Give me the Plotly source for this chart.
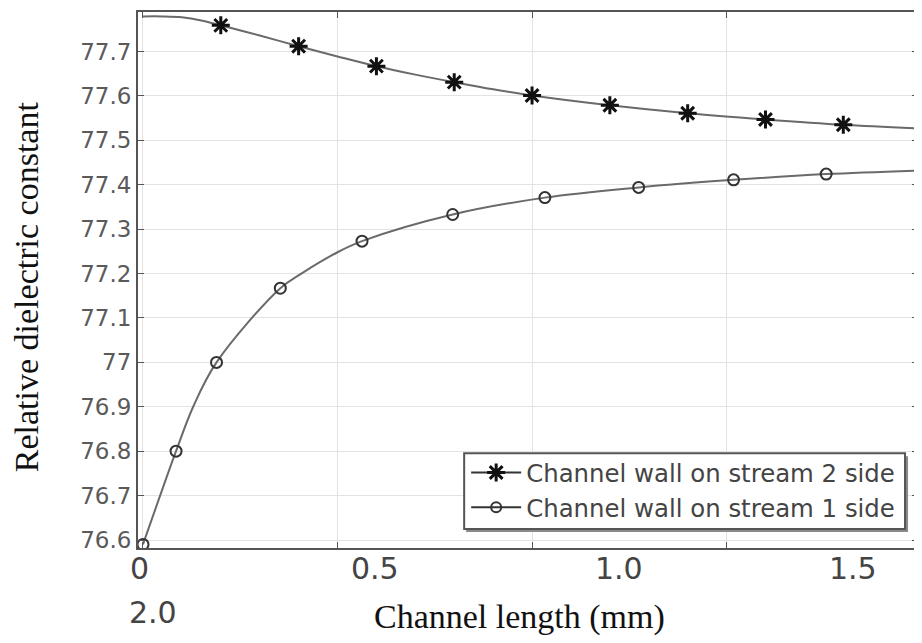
import plotly.graph_objects as go

# ---------------- data ----------------
# Channel wall on stream 2 side (stars)
s2_line_x = [0, 0.05, 0.1, 0.15, 0.2, 0.3, 0.4, 0.5, 0.6, 0.7, 0.8, 0.9, 1.0, 1.2, 1.4, 1.6, 1.8, 1.99]
s2_line_y = [77.779, 77.779, 77.777, 77.770, 77.759, 77.736, 77.712, 77.689, 77.667, 77.648,
             77.631, 77.615, 77.601, 77.579, 77.561, 77.547, 77.535, 77.527]
s2_mark_x = [0.2, 0.4, 0.6, 0.8, 1.0, 1.2, 1.4, 1.6, 1.8]
s2_mark_y = [77.759, 77.712, 77.667, 77.631, 77.601, 77.579, 77.561, 77.547, 77.535]

# Channel wall on stream 1 side (circles)
s1_line_x = [0, 0.044, 0.085, 0.129, 0.189, 0.353, 0.407, 0.5, 0.563, 0.796, 1.033, 1.274, 1.518, 1.756, 1.99]
s1_line_y = [76.59, 76.70, 76.80, 76.90, 77.00, 77.167, 77.20, 77.248, 77.273, 77.333,
             77.371, 77.394, 77.411, 77.424, 77.432]
s1_mark_x = [0, 0.085, 0.189, 0.353, 0.563, 0.796, 1.033, 1.274, 1.518, 1.756]
s1_mark_y = [76.59, 76.80, 77.00, 77.167, 77.273, 77.333, 77.371, 77.394, 77.411, 77.424]

series_names = ["Channel wall on stream 2 side", "Channel wall on stream 1 side"]

y_tick_vals = [76.6, 76.7, 76.8, 76.9, 77.0, 77.1, 77.2, 77.3, 77.4, 77.5, 77.6, 77.7]
y_tick_text = ["76.6", "76.7", "76.8", "76.9", "77", "77.1", "77.2", "77.3", "77.4", "77.5", "77.6", "77.7"]
x_grid_vals = [0, 0.5, 1.0, 1.5]
# x tick labels as they appear (wrapped text line in the source figure)
x_label_text = ["0", "0.5", "1.0", "1.5", "2.0"]
x_label_pos = [-0.008, 0.597, 1.223, 1.826, 0.026]
x_label_row = [-0.039, -0.039, -0.039, -0.039, -0.121]

x_title = "Channel length (mm)"
y_title = "Relative dielectric constant"

LINE = "#6a6a6a"
STAR = dict(symbol="asterisk-open", size=15, color="#111", line=dict(color="#111", width=3))
CIRC = dict(symbol="circle-open", size=11, color="#333", line=dict(color="#333", width=2))

fig = go.Figure()

fig.add_trace(go.Scatter(x=s2_line_x, y=s2_line_y, mode="lines", line=dict(color=LINE, width=2, shape="spline"),
                         showlegend=False, hoverinfo="skip"))
fig.add_trace(go.Scatter(x=s2_mark_x, y=s2_mark_y, mode="markers", marker=STAR, showlegend=False))
fig.add_trace(go.Scatter(x=s1_line_x, y=s1_line_y, mode="lines", line=dict(color=LINE, width=2, shape="spline"),
                         showlegend=False, hoverinfo="skip"))
fig.add_trace(go.Scatter(x=s1_mark_x, y=s1_mark_y, mode="markers", marker=CIRC, showlegend=False))

# legend entries
fig.add_trace(go.Scatter(x=[None], y=[None], mode="lines+markers", name=series_names[0],
                         line=dict(color="#333", width=2), marker=STAR))
fig.add_trace(go.Scatter(x=[None], y=[None], mode="lines+markers", name=series_names[1],
                         line=dict(color="#333", width=2), marker=dict(CIRC, size=10)))

annotations = []
for t, xp, yp in zip(x_label_text, x_label_pos, x_label_row):
    annotations.append(dict(x=xp, y=yp, xref="x", yref="paper", text=t, showarrow=False,
                            xanchor="center", yanchor="middle",
                            font=dict(family="DejaVu Sans", size=30, color="#444")))
annotations.append(dict(x=0.4885, y=-0.128, xref="paper", yref="paper", text=x_title, showarrow=False,
                        xanchor="center", yanchor="middle",
                        font=dict(family="Liberation Serif", size=34, color="#111")))
annotations.append(dict(x=-0.1426, y=0.488, xref="paper", yref="paper", text=y_title, showarrow=False,
                        textangle=-90, xanchor="center", yanchor="middle",
                        font=dict(family="Liberation Serif", size=34, color="#111")))

# legend frame with a soft shadow on its bottom/right edge
W, H = 782.0, 537.0
shapes = [
    dict(type="rect", xref="paper", yref="paper",
         x0=(467 - 138) / W, x1=(910 - 138) / W, y0=(548 - 532) / H, y1=(548 - 456) / H,
         fillcolor="#8a8a8a", line=dict(width=0), layer="above"),
    dict(type="rect", xref="paper", yref="paper",
         x0=(465 - 138) / W, x1=(907 - 138) / W, y0=(548 - 529) / H, y1=(548 - 453) / H,
         fillcolor="white", line=dict(color="#555", width=2), layer="above"),
]

fig.update_layout(
    width=914, height=635,
    margin=dict(l=130, r=2, t=3, b=95),
    paper_bgcolor="white", plot_bgcolor="white",
    showlegend=True,
    legend=dict(x=(467 - 138) / W, y=(548 - 450) / H, xanchor="left", yanchor="top",
                bgcolor="rgba(0,0,0,0)", borderwidth=0,
                font=dict(family="DejaVu Sans", size=24.4, color="#444"),
                itemwidth=50, tracegroupgap=0),
    annotations=annotations,
    shapes=shapes,
    xaxis=dict(range=[-0.0128, 1.992], tickvals=x_grid_vals, showticklabels=False,
               showgrid=True, gridcolor="#e3e3e3", gridwidth=1, zeroline=False,
               showline=True, linecolor="#555", linewidth=2, mirror="ticks",
               ticks="inside", ticklen=6, tickcolor="#555", tickwidth=1),
    yaxis=dict(range=[76.582, 77.789], tickvals=y_tick_vals, ticktext=y_tick_text,
               showgrid=True, gridcolor="#e3e3e3", gridwidth=1, zeroline=False,
               showline=True, linecolor="#555", linewidth=2, mirror="ticks",
               ticks="inside", ticklen=6, tickcolor="#555", tickwidth=1,
               tickfont=dict(family="DejaVu Sans", size=23, color="#5a5a5a")),
)

fig.write_html("out.html")
